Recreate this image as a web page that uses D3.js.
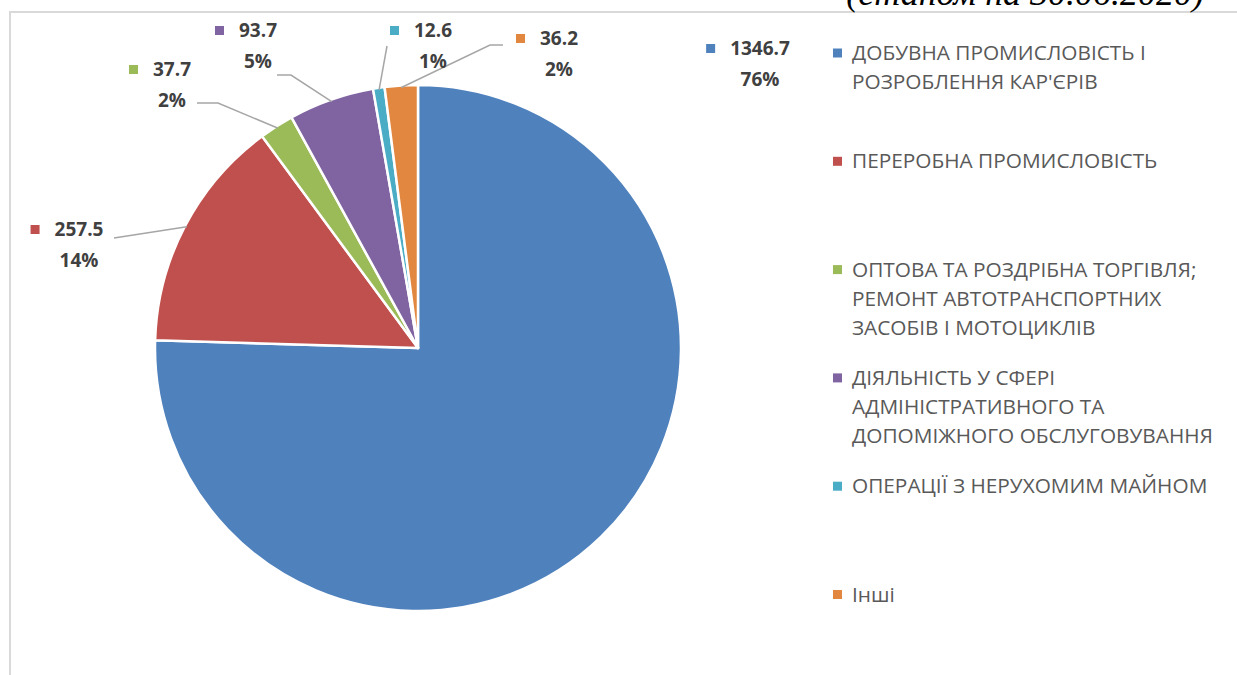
<!DOCTYPE html>
<html>
<head>
<meta charset="utf-8">
<script src="https://cdn.jsdelivr.net/npm/d3@7"></script>
<style>
  body { margin: 0; background: #fff; }
  svg { display: block; }
</style>
</head>
<body>
<script>
// Set height and width of svg
let width = 1237, height = 675

// data (clockwise from 12 o'clock)
let categories = [
    ["ДОБУВНА ПРОМИСЛОВІСТЬ І", "РОЗРОБЛЕННЯ КАР'ЄРІВ"],
    ["ПЕРЕРОБНА ПРОМИСЛОВІСТЬ"],
    ["ОПТОВА ТА РОЗДРІБНА ТОРГІВЛЯ;", "РЕМОНТ АВТОТРАНСПОРТНИХ", "ЗАСОБІВ І МОТОЦИКЛІВ"],
    ["ДІЯЛЬНІСТЬ У СФЕРІ", "АДМІНІСТРАТИВНОГО ТА", "ДОПОМІЖНОГО ОБСЛУГОВУВАННЯ"],
    ["ОПЕРАЦІЇ З НЕРУХОМИМ МАЙНОМ"],
    ["Інші"]
]
let values = [1346.7, 257.5, 37.7, 93.7, 12.6, 36.2]
let percentLabels = ["76%", "14%", "2%", "5%", "1%", "2%"]
let colorList = ["#4f81bd", "#c0504d", "#9bbb59", "#8064a2", "#4bacc6", "#e2873f"]

// where Excel put the data labels (center x of block, y of first line)
let labelPos = [[760, 48], [79, 229], [172, 69], [258, 30], [433, 30], [559, 38]]
// leader line points on the label side (null = no leader)
let leaderStart = [
    null,
    [[114, 238]],
    [[197, 103], [218, 103]],
    [[277, 75], [291, 75]],
    [[387, 46]],
    [[503, 45], [490, 45]]
]

let cx = 418, cy = 348, radius = 263

let svg = d3.select("body").append("svg")
    .attr("width", width)
    .attr("height", height)

// chart frame (only top & left edges visible)
svg.append("path")
    .attr("d", `M10,${height} V12 H${width}`)
    .attr("fill", "none")
    .attr("stroke", "#d9d9d9")
    .attr("stroke-width", 2)

// cropped title from the page above
svg.append("text")
    .attr("x", 1204)
    .attr("y", 5)
    .attr("text-anchor", "end")
    .attr("font-family", "Liberation Serif")
    .attr("font-style", "italic")
    .attr("font-size", 36)
    .attr("fill", "#000")
    .text("(станом на 30.06.2020)")

let color = d3.scaleOrdinal().domain(d3.range(values.length)).range(colorList)

let pie = d3.pie().sort(null).value(d => d)
let arcs = pie(values)

let arc = d3.arc().innerRadius(0).outerRadius(radius)
let edgeArc = d3.arc().innerRadius(radius - 2).outerRadius(radius - 2)

let g = svg.append("g").attr("transform", `translate(${cx},${cy})`)

g.selectAll("path")
    .data(arcs)
    .join("path")
    .attr("d", arc)
    .attr("fill", (d, i) => color(i))
    .attr("stroke", "#fff")
    .attr("stroke-width", 2.5)
    .attr("stroke-linejoin", "round")

// leader lines
let line = d3.line()
svg.append("g")
    .selectAll("path")
    .data(arcs.filter((d, i) => leaderStart[i]))
    .join("path")
    .attr("d", d => {
        let pts = leaderStart[d.index].slice()
        let c = edgeArc.centroid(d)
        pts.push([cx + c[0], cy + c[1]])
        return line(pts)
    })
    .attr("fill", "none")
    .attr("stroke", "#a6a6a6")
    .attr("stroke-width", 1.5)

// data labels
let labelFont = "'Open Sans', 'Noto Sans', sans-serif"
let lab = svg.append("g")
    .selectAll("g")
    .data(arcs)
    .join("g")
    .attr("font-family", labelFont)
    .attr("font-weight", "bold")
    .attr("font-size", 19)
    .attr("fill", "#404040")

lab.append("text")
    .attr("class", "val")
    .attr("x", d => labelPos[d.index][0])
    .attr("y", d => labelPos[d.index][1] + 7)
    .attr("text-anchor", "middle")
    .text(d => d3.format(".1f")(d.value))

lab.append("text")
    .attr("x", d => labelPos[d.index][0])
    .attr("y", d => labelPos[d.index][1] + 38)
    .attr("text-anchor", "middle")
    .text(d => percentLabels[d.index])

lab.each(function(d) {
    let t = d3.select(this).select(".val")
    let w = t.node().getComputedTextLength()
    let left = labelPos[d.index][0] - w / 2
    d3.select(this).append("rect")
        .attr("x", left - 24)
        .attr("y", labelPos[d.index][1] - 4)
        .attr("width", 9)
        .attr("height", 9)
        .attr("fill", color(d.index))
})

// legend
let legendX = 833, legendY = 53, legendStep = 108.3, lineH = 29
let legend = svg.append("g")
    .attr("font-family", labelFont)
    .attr("font-size", 20.8)
    .attr("fill", "#595959")
    .selectAll("g")
    .data(categories)
    .join("g")
    .attr("transform", (d, i) => `translate(${legendX},${legendY + i * legendStep})`)

legend.append("rect")
    .attr("x", 0)
    .attr("y", -4.5)
    .attr("width", 9)
    .attr("height", 9)
    .attr("fill", (d, i) => color(i))

legend.append("text")
    .attr("x", 19)
    .selectAll("tspan")
    .data(d => d)
    .join("tspan")
    .attr("x", 19)
    .attr("y", (d, i) => i * lineH + 7)
    .text(d => d)
</script>
</body>
</html>
